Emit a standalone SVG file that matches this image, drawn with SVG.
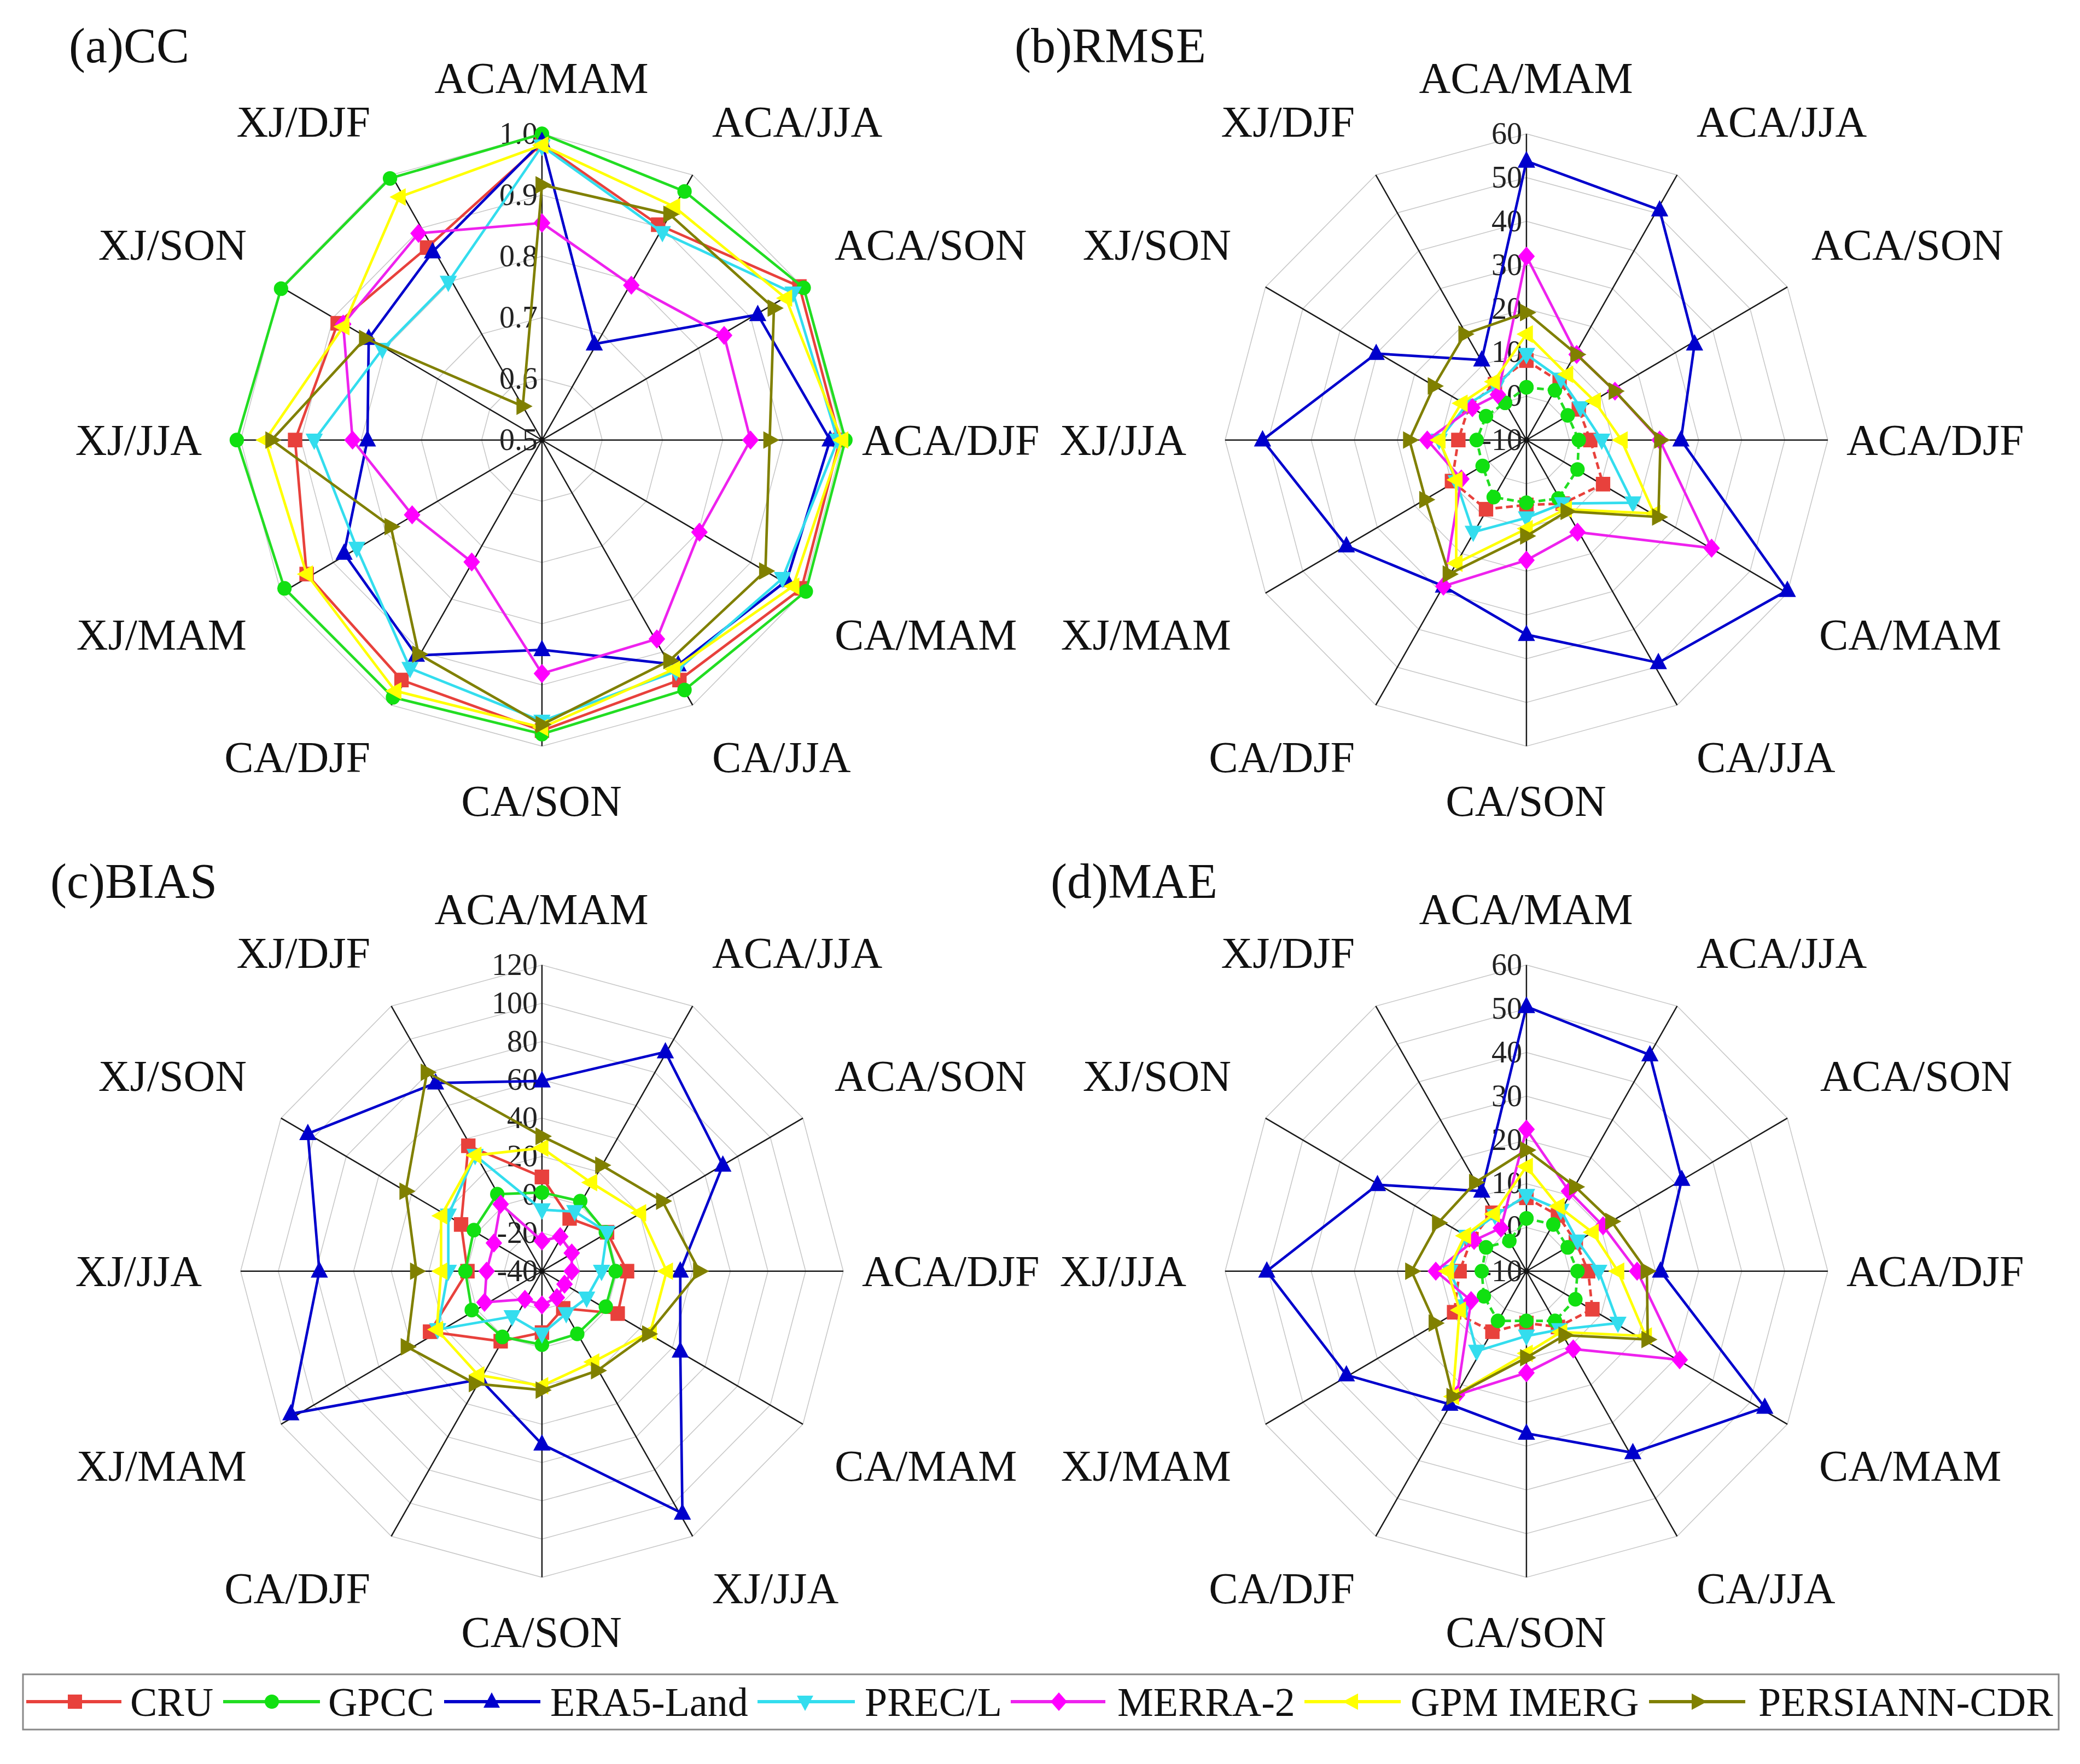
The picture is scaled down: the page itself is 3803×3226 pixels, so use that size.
<svg xmlns="http://www.w3.org/2000/svg" xmlns:xlink="http://www.w3.org/1999/xlink" width="3803" height="3226" viewBox="0 0 3803 3226">
<style>
text{font-family:"Liberation Serif","Times New Roman",serif;fill:#111}
.lab{font-size:80px}
.ttl{font-size:90px}
.tick{font-size:72px;text-anchor:end;fill:#222}
.ring{fill:none;stroke:#c8c8c8;stroke-width:1.6;vector-effect:non-scaling-stroke}
.axis{fill:none;stroke:#1a1a1a;stroke-width:3.2}
.ser polygon{fill:none;stroke-width:6;stroke-linejoin:round}
.cru{stroke:#e8413c;marker:url(#m-cru)}
.gpcc{stroke:#22dd22;marker:url(#m-gpcc)}
.era{stroke:#0000cc;marker:url(#m-era)}
.prec{stroke:#33ddee;marker:url(#m-prec)}
.merra{stroke:#ee22ee;marker:url(#m-merra)}
.gpm{stroke:#ffff00;marker:url(#m-gpm)}
.pers{stroke:#808000;marker:url(#m-pers)}
.dash{stroke-dasharray:16 9}
.lg line{stroke-width:6}
</style>
<defs>
<polygon id="ring" class="ring" points="0,-708 354,-613 613,-354 708,0 613,354 354,613 0,708 -354,613 -613,354 -708,0 -613,-354 -354,-613"/>
<path id="axes" class="axis" d="M0,0L0,-708M0,0L354,-613M0,0L613,-354M0,0L708,0M0,0L613,354M0,0L354,613M0,0L0,708M0,0L-354,613M0,0L-613,354M0,0L-708,0M0,0L-613,-354M0,0L-354,-613"/>
<rect id="g-sq" x="-13" y="-13" width="26" height="26" fill="#e8413c"/>
<circle id="g-ci" r="13" fill="#11e011"/>
<polygon id="g-tu" points="0,-17 15,11 -15,11" fill="#0000cc"/>
<polygon id="g-td" points="0,17 15,-11 -15,-11" fill="#33ddee"/>
<polygon id="g-di" points="0,-17 15,0 0,17 -15,0" fill="#ff00ff"/>
<polygon id="g-tl" points="-17,0 11,-15 11,15" fill="#ffff00"/>
<polygon id="g-tr" points="17,0 -11,-15 -11,15" fill="#808000"/>
<marker id="m-cru" markerUnits="userSpaceOnUse" viewBox="-25 -25 50 50" markerWidth="50" markerHeight="50" refX="0" refY="0" overflow="visible"><use href="#g-sq" transform="scale(1.3)"/></marker>
<marker id="m-gpcc" markerUnits="userSpaceOnUse" viewBox="-25 -25 50 50" markerWidth="50" markerHeight="50" refX="0" refY="0" overflow="visible"><use href="#g-ci" transform="scale(1.3)"/></marker>
<marker id="m-era" markerUnits="userSpaceOnUse" viewBox="-25 -25 50 50" markerWidth="50" markerHeight="50" refX="0" refY="0" overflow="visible"><use href="#g-tu" transform="scale(1.35)"/></marker>
<marker id="m-prec" markerUnits="userSpaceOnUse" viewBox="-25 -25 50 50" markerWidth="50" markerHeight="50" refX="0" refY="0" overflow="visible"><use href="#g-td" transform="scale(1.35)"/></marker>
<marker id="m-merra" markerUnits="userSpaceOnUse" viewBox="-25 -25 50 50" markerWidth="50" markerHeight="50" refX="0" refY="0" overflow="visible"><use href="#g-di" transform="scale(1.3)"/></marker>
<marker id="m-gpm" markerUnits="userSpaceOnUse" viewBox="-25 -25 50 50" markerWidth="50" markerHeight="50" refX="0" refY="0" overflow="visible"><use href="#g-tl" transform="scale(1.35)"/></marker>
<marker id="m-pers" markerUnits="userSpaceOnUse" viewBox="-25 -25 50 50" markerWidth="50" markerHeight="50" refX="0" refY="0" overflow="visible"><use href="#g-tr" transform="scale(1.35)"/></marker>
</defs>
<rect width="3803" height="3226" fill="#fff"/>

<!-- (a) CC -->
<g id="chart-a" transform="translate(380 180) scale(0.7782 0.7908)">
<use href="#ring" transform="translate(785 790) scale(0.2)"/>
<use href="#ring" transform="translate(785 790) scale(0.4)"/>
<use href="#ring" transform="translate(785 790) scale(0.6)"/>
<use href="#ring" transform="translate(785 790) scale(0.8)"/>
<use href="#ring" transform="translate(785 790)"/>
<use href="#axes" transform="translate(785 790)"/>
<text class="tick" x="775" y="105">1.0</text><text class="tick" x="775" y="247">0.9</text><text class="tick" x="775" y="388">0.8</text><text class="tick" x="775" y="530">0.7</text><text class="tick" x="775" y="671">0.6</text><text class="tick" x="775" y="813">0.5</text>
<g class="ser">
<polygon class="cru" points="785,105 1058,292 1390,435 1485,790 1395,1133 1108,1345 785,1462 455,1345 232,1100 205,790 305,520 515,345"/>
<polygon class="gpcc" points="785,82 1120,215 1400,438 1498,790 1405,1140 1120,1368 785,1470 435,1385 180,1133 68,790 172,440 428,185"/>
<polygon class="era" points="785,100 908,568 1292,500 1462,790 1360,1115 1105,1310 785,1275 490,1288 320,1052 375,790 378,555 528,355"/>
<polygon class="prec" points="785,110 1068,310 1375,450 1480,790 1350,1110 1100,1325 785,1440 475,1318 350,1040 250,790 410,580 565,425"/>
<polygon class="merra" points="785,288 995,432 1213,548 1275,790 1155,1003 1055,1250 785,1330 620,1072 480,963 340,790 318,522 495,312"/>
<polygon class="gpm" points="785,108 1095,250 1358,462 1490,790 1375,1128 1095,1320 785,1455 440,1370 232,1100 135,790 318,528 450,228"/>
<polygon class="pers" points="785,200 1085,268 1330,485 1320,790 1310,1093 1085,1300 785,1448 495,1285 430,990 150,790 370,555 740,712"/>
</g>
<circle cx="785" cy="790" r="6" fill="#111"/>
</g>

<!-- (b) RMSE -->
<g id="chart-b" transform="translate(2180 180) scale(0.7782 0.7908)">
<use href="#ring" transform="translate(785 790) scale(0.142857)"/>
<use href="#ring" transform="translate(785 790) scale(0.285714)"/>
<use href="#ring" transform="translate(785 790) scale(0.428571)"/>
<use href="#ring" transform="translate(785 790) scale(0.571429)"/>
<use href="#ring" transform="translate(785 790) scale(0.714286)"/>
<use href="#ring" transform="translate(785 790) scale(0.857143)"/>
<use href="#ring" transform="translate(785 790)"/>
<use href="#axes" transform="translate(785 790)"/>
<text class="tick" x="775" y="105">60</text><text class="tick" x="775" y="206">50</text><text class="tick" x="775" y="307">40</text><text class="tick" x="775" y="408">30</text><text class="tick" x="775" y="509">20</text><text class="tick" x="775" y="610">10</text><text class="tick" x="775" y="711">0</text><text class="tick" x="775" y="813">-10</text>
<g class="ser">
<polygon class="cru dash" points="785,606 863,655 908,719 935,790 965,892 870,937 785,940 690,950 610,885 625,790 650,712 711,661"/>
<polygon class="gpcc dash" points="785,668 852,675 882,733 908,790 905,858 860,925 785,935 708,922 682,850 668,790 690,735 735,704"/>
<polygon class="era" points="785,145 1098,258 1180,568 1148,790 1398,1138 1095,1305 785,1240 590,1128 362,1035 165,790 432,590 680,605"/>
<polygon class="prec" points="785,592 866,649 912,715 962,790 1035,935 870,937 785,970 660,1003 620,886 580,790 644,709 714,667"/>
<polygon class="merra" points="785,365 903,592 993,677 1098,790 1220,1040 905,1003 785,1068 590,1128 632,880 552,790 658,715 718,685"/>
<polygon class="gpm" points="785,545 880,638 945,700 1008,790 1085,960 877,950 785,995 620,1075 620,882 580,790 632,705 708,655"/>
<polygon class="pers" points="785,495 903,592 993,677 1100,790 1095,968 880,955 785,1012 603,1100 548,928 510,790 568,665 640,545"/>
</g>
<circle cx="785" cy="790" r="6" fill="#111"/>
</g>

<!-- (c) BIAS -->
<g id="chart-c" transform="translate(380 1700) scale(0.7782 0.7908)">
<use href="#ring" transform="translate(785 790) scale(0.125)"/>
<use href="#ring" transform="translate(785 790) scale(0.25)"/>
<use href="#ring" transform="translate(785 790) scale(0.375)"/>
<use href="#ring" transform="translate(785 790) scale(0.5)"/>
<use href="#ring" transform="translate(785 790) scale(0.625)"/>
<use href="#ring" transform="translate(785 790) scale(0.75)"/>
<use href="#ring" transform="translate(785 790) scale(0.875)"/>
<use href="#ring" transform="translate(785 790)"/>
<use href="#axes" transform="translate(785 790)"/>
<text class="tick" x="775" y="105">120</text><text class="tick" x="775" y="193">100</text><text class="tick" x="775" y="282">80</text><text class="tick" x="775" y="370">60</text><text class="tick" x="775" y="459">40</text><text class="tick" x="775" y="547">20</text><text class="tick" x="775" y="636">0</text><text class="tick" x="775" y="724">-20</text><text class="tick" x="775" y="813">-40</text>
<g class="ser">
<polygon class="cru" points="785,572 850,668 938,700 985,790 963,888 835,876 785,932 688,952 522,930 610,790 595,682 612,500"/>
<polygon class="gpcc" points="785,608 875,628 935,700 958,790 935,872 868,935 785,960 692,942 620,880 605,790 625,695 680,612"/>
<polygon class="era" points="785,350 1075,283 1210,545 1110,790 1110,975 1115,1350 785,1190 640,1040 195,1120 262,790 235,472 535,355"/>
<polygon class="prec" points="785,648 862,652 938,700 925,790 890,852 842,888 785,935 715,895 540,925 565,790 565,660 628,522"/>
<polygon class="merra" points="785,720 828,710 855,748 855,790 838,820 820,851 785,868 745,855 650,862 655,790 672,725 688,635"/>
<polygon class="gpm" points="785,505 900,585 1015,655 1078,790 1040,930 905,1000 785,1055 635,1030 538,925 548,790 548,662 628,522"/>
<polygon class="pers" points="785,478 925,545 1068,628 1155,790 1035,935 915,1020 785,1065 628,1050 468,965 490,790 465,605 515,330"/>
</g>
<circle cx="785" cy="790" r="6" fill="#111"/>
</g>

<!-- (d) MAE -->
<g id="chart-d" transform="translate(2180 1700) scale(0.7782 0.7908)">
<use href="#ring" transform="translate(785 790) scale(0.142857)"/>
<use href="#ring" transform="translate(785 790) scale(0.285714)"/>
<use href="#ring" transform="translate(785 790) scale(0.428571)"/>
<use href="#ring" transform="translate(785 790) scale(0.571429)"/>
<use href="#ring" transform="translate(785 790) scale(0.714286)"/>
<use href="#ring" transform="translate(785 790) scale(0.857143)"/>
<use href="#ring" transform="translate(785 790)"/>
<use href="#axes" transform="translate(785 790)"/>
<text class="tick" x="775" y="105">60</text><text class="tick" x="775" y="206">50</text><text class="tick" x="775" y="307">40</text><text class="tick" x="775" y="408">30</text><text class="tick" x="775" y="509">20</text><text class="tick" x="775" y="610">10</text><text class="tick" x="775" y="711">0</text><text class="tick" x="775" y="813">-10</text>
<g class="ser">
<polygon class="cru dash" points="785,620 859,661 901,723 930,790 940,878 859,919 785,910 705,930 615,885 628,790 656,716 705,655"/>
<polygon class="gpcc dash" points="785,668 848,682 882,735 905,790 900,855 852,905 785,905 718,905 685,848 680,790 690,735 745,720"/>
<polygon class="era" points="785,178 1075,290 1150,578 1100,790 1345,1105 1035,1210 785,1165 605,1098 362,1030 175,790 435,590 680,605"/>
<polygon class="prec" points="785,615 866,649 905,720 955,790 1000,910 863,925 785,940 668,975 640,870 605,790 644,709 711,661"/>
<polygon class="merra" points="785,462 885,605 965,685 1045,790 1145,995 895,970 785,1025 622,1076 655,858 572,790 662,719 725,690"/>
<polygon class="gpm" points="785,548 860,640 940,700 1000,790 1065,940 866,931 785,980 612,1080 628,880 600,790 640,708 708,658"/>
<polygon class="pers" points="785,510 900,595 985,675 1068,790 1070,948 875,938 785,990 612,1080 570,910 515,790 578,678 665,585"/>
</g>
<circle cx="785" cy="790" r="6" fill="#111"/>
</g>

<!-- labels -->
<g id="labels-a">
<text class="ttl" x="126" y="114">(a)CC</text>
<text class="lab" x="990" y="170" text-anchor="middle">ACA/MAM</text>
<text class="lab" x="1302" y="250">ACA/JJA</text>
<text class="lab" x="1526" y="475">ACA/SON</text>
<text class="lab" x="1576" y="832">ACA/DJF</text>
<text class="lab" x="1526" y="1188">CA/MAM</text>
<text class="lab" x="1302" y="1412">CA/JJA</text>
<text class="lab" x="990" y="1492" text-anchor="middle">CA/SON</text>
<text class="lab" x="677" y="1412" text-anchor="end">CA/DJF</text>
<text class="lab" x="451" y="1188" text-anchor="end">XJ/MAM</text>
<text class="lab" x="369" y="832" text-anchor="end">XJ/JJA</text>
<text class="lab" x="451" y="475" text-anchor="end">XJ/SON</text>
<text class="lab" x="677" y="250" text-anchor="end">XJ/DJF</text>
</g>
<g id="labels-b">
<text class="ttl" x="1855" y="114">(b)RMSE</text>
<text class="lab" x="2790" y="170" text-anchor="middle">ACA/MAM</text>
<text class="lab" x="3102" y="250">ACA/JJA</text>
<text class="lab" x="3312" y="475">ACA/SON</text>
<text class="lab" x="3376" y="832">ACA/DJF</text>
<text class="lab" x="3326" y="1188">CA/MAM</text>
<text class="lab" x="3102" y="1412">CA/JJA</text>
<text class="lab" x="2790" y="1492" text-anchor="middle">CA/SON</text>
<text class="lab" x="2477" y="1412" text-anchor="end">CA/DJF</text>
<text class="lab" x="2251" y="1188" text-anchor="end">XJ/MAM</text>
<text class="lab" x="2169" y="832" text-anchor="end">XJ/JJA</text>
<text class="lab" x="2251" y="475" text-anchor="end">XJ/SON</text>
<text class="lab" x="2477" y="250" text-anchor="end">XJ/DJF</text>
</g>
<g id="labels-c">
<text class="ttl" x="92" y="1642">(c)BIAS</text>
<text class="lab" x="990" y="1690" text-anchor="middle">ACA/MAM</text>
<text class="lab" x="1302" y="1770">ACA/JJA</text>
<text class="lab" x="1526" y="1995">ACA/SON</text>
<text class="lab" x="1576" y="2352">ACA/DJF</text>
<text class="lab" x="1526" y="2708">CA/MAM</text>
<text class="lab" x="1302" y="2932">XJ/JJA</text>
<text class="lab" x="990" y="3012" text-anchor="middle">CA/SON</text>
<text class="lab" x="677" y="2932" text-anchor="end">CA/DJF</text>
<text class="lab" x="451" y="2708" text-anchor="end">XJ/MAM</text>
<text class="lab" x="369" y="2352" text-anchor="end">XJ/JJA</text>
<text class="lab" x="451" y="1995" text-anchor="end">XJ/SON</text>
<text class="lab" x="677" y="1770" text-anchor="end">XJ/DJF</text>
</g>
<g id="labels-d">
<text class="ttl" x="1921" y="1642">(d)MAE</text>
<text class="lab" x="2790" y="1690" text-anchor="middle">ACA/MAM</text>
<text class="lab" x="3102" y="1770">ACA/JJA</text>
<text class="lab" x="3328" y="1995">ACA/SON</text>
<text class="lab" x="3376" y="2352">ACA/DJF</text>
<text class="lab" x="3326" y="2708">CA/MAM</text>
<text class="lab" x="3102" y="2932">CA/JJA</text>
<text class="lab" x="2790" y="3012" text-anchor="middle">CA/SON</text>
<text class="lab" x="2477" y="2932" text-anchor="end">CA/DJF</text>
<text class="lab" x="2251" y="2708" text-anchor="end">XJ/MAM</text>
<text class="lab" x="2169" y="2352" text-anchor="end">XJ/JJA</text>
<text class="lab" x="2251" y="1995" text-anchor="end">XJ/SON</text>
<text class="lab" x="2477" y="1770" text-anchor="end">XJ/DJF</text>
</g>

<!-- legend -->
<g id="legend" class="lg">
<rect x="42" y="3062" width="3722" height="101" fill="none" stroke="#888" stroke-width="3"/>
<line x1="48" y1="3112" x2="222" y2="3112" stroke="#e8413c"/><use href="#g-sq" transform="translate(137 3112)"/><text class="lab" x="238" y="3138" style="font-size:74px">CRU</text>
<line x1="408" y1="3112" x2="585" y2="3112" stroke="#22dd22"/><use href="#g-ci" transform="translate(497 3112)"/><text class="lab" x="600" y="3138" style="font-size:74px">GPCC</text>
<line x1="812" y1="3112" x2="988" y2="3112" stroke="#0000cc"/><use href="#g-tu" transform="translate(899 3112)"/><text class="lab" x="1006" y="3138" style="font-size:74px">ERA5-Land</text>
<line x1="1385" y1="3112" x2="1563" y2="3112" stroke="#33ddee"/><use href="#g-td" transform="translate(1472 3112)"/><text class="lab" x="1581" y="3138" style="font-size:74px">PREC/L</text>
<line x1="1848" y1="3112" x2="2021" y2="3112" stroke="#ee22ee"/><use href="#g-di" transform="translate(1936 3112)"/><text class="lab" x="2043" y="3138" style="font-size:74px">MERRA-2</text>
<line x1="2385" y1="3112" x2="2561" y2="3112" stroke="#ffff00"/><use href="#g-tl" transform="translate(2472 3112)"/><text class="lab" x="2579" y="3138" style="font-size:74px">GPM IMERG</text>
<line x1="3015" y1="3112" x2="3191" y2="3112" stroke="#808000"/><use href="#g-tr" transform="translate(3104 3112)"/><text class="lab" x="3215" y="3138" style="font-size:74px">PERSIANN-CDR</text>
</g>
</svg>
